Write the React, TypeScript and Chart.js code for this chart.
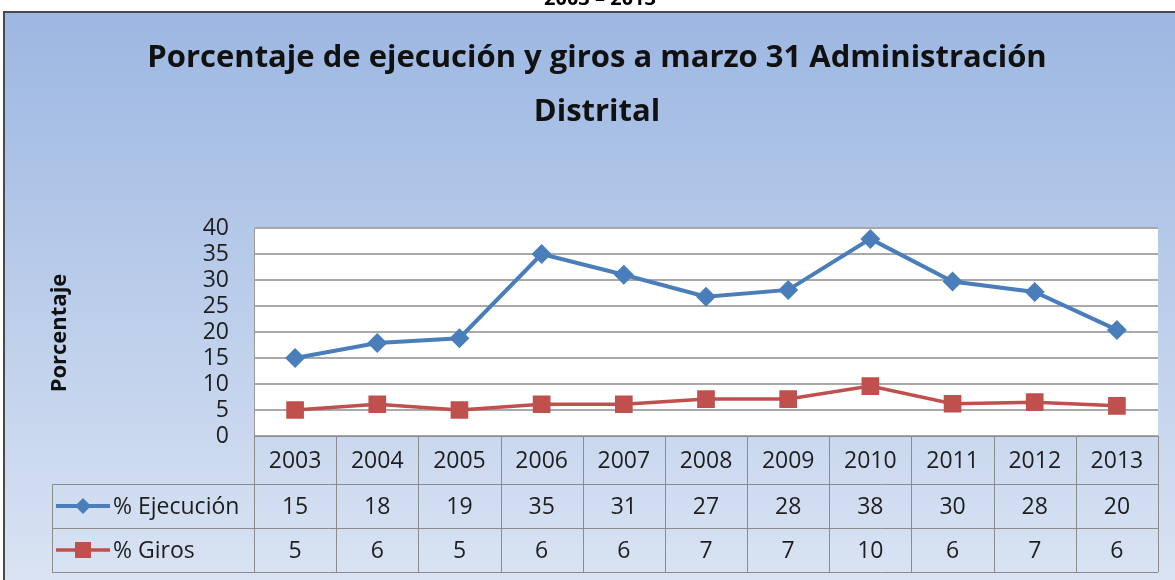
import React, { useEffect, useRef } from 'react';
import { Chart, registerables } from 'chart.js';

Chart.register(...registerables);

const years = ['2003', '2004', '2005', '2006', '2007', '2008', '2009', '2010', '2011', '2012', '2013'];
const ejecucion = [15, 17.9, 18.8, 35, 31, 26.8, 28.1, 37.9, 29.7, 27.7, 20.4];
const giros = [5, 6.1, 5, 6.1, 6.1, 7.1, 7.1, 9.6, 6.2, 6.5, 5.8];
const ejecucionLabels = ['15', '18', '19', '35', '31', '27', '28', '38', '30', '28', '20'];
const girosLabels = ['5', '6', '5', '6', '6', '7', '7', '10', '6', '7', '6'];
const seriesNames = ['% Ejecución', '% Giros'];
const titleLines = ['Porcentaje de ejecución y giros a marzo 31 Administración', 'Distrital'];
const yTitle = 'Porcentaje';
const headerText = '2003 – 2013';
const yMin = 0;
const yMax = 40;
const yStep = 5;

const FONT = '"Open Sans", sans-serif';
const BLUE = '#4a7ebb';
const RED = '#c0504d';
const GRID = '#a9a9a9';
const TEXT = '#1e1e1e';

export default function App() {
  const ref = useRef<HTMLCanvasElement>(null);

  useEffect(() => {
    document.body.style.margin = '0';
    const canvas = ref.current;
    if (!canvas) return;

    const decor = {
      id: 'decor',
      beforeDraw(chart: any) {
        const { ctx, width, height, chartArea } = chart;
        ctx.save();
        ctx.fillStyle = '#ffffff';
        ctx.fillRect(0, 0, width, height);
        // clipped heading above the chart frame
        ctx.fillStyle = '#000';
        ctx.font = `bold 20px ${FONT}`;
        ctx.textAlign = 'center';
        ctx.textBaseline = 'alphabetic';
        ctx.fillText(headerText, 600, 5);
        // frame background
        const g = ctx.createLinearGradient(0, 12, 0, height);
        g.addColorStop(0, '#9cb7e2');
        g.addColorStop(1, '#d9e3f3');
        ctx.fillStyle = g;
        ctx.fillRect(4, 12, width - 4, height - 12);
        ctx.fillStyle = '#4a4a4a';
        ctx.fillRect(3, 11, width - 3, 2);
        ctx.fillRect(3, 11, 2, height - 11);
        // plot background
        ctx.fillStyle = '#ffffff';
        ctx.fillRect(chartArea.left, chartArea.top, chartArea.right - chartArea.left, chartArea.bottom - chartArea.top);
        // title
        ctx.fillStyle = '#111';
        ctx.font = `bold 31px ${FONT}`;
        ctx.textBaseline = 'middle';
        ctx.fillText(titleLines[0], 597, 58);
        ctx.fillText(titleLines[1], 597, 112);
        // y title
        ctx.save();
        ctx.translate(60, 333);
        ctx.rotate(-Math.PI / 2);
        ctx.font = `bold 22px ${FONT}`;
        ctx.fillText(yTitle, 0, 0);
        ctx.restore();
        ctx.restore();
      },
      afterDraw(chart: any) {
        const { ctx, chartArea, scales } = chart;
        const xs = scales.x;
        const colW = xs.getPixelForValue(1) - xs.getPixelForValue(0);
        const left = chartArea.left;
        const right = chartArea.right;
        const top = chartArea.bottom;
        const r1 = top + 48;
        const r2 = r1 + 44;
        const r3 = r2 + 44;
        const legLeft = 52;
        ctx.save();
        ctx.strokeStyle = '#8c8c8c';
        ctx.lineWidth = 1;
        ctx.beginPath();
        ctx.moveTo(left, top + 0.5);
        ctx.lineTo(right, top + 0.5);
        for (const y of [r1, r2, r3]) {
          ctx.moveTo(legLeft, y + 0.5);
          ctx.lineTo(right, y + 0.5);
        }
        for (let i = 0; i <= years.length; i++) {
          const x = Math.round(xs.getPixelForValue(i) - colW / 2) + 0.5;
          ctx.moveTo(x, top);
          ctx.lineTo(x, r3);
        }
        ctx.moveTo(legLeft + 0.5, r1);
        ctx.lineTo(legLeft + 0.5, r3);
        ctx.stroke();

        ctx.fillStyle = TEXT;
        ctx.font = `23px ${FONT}`;
        ctx.textAlign = 'center';
        ctx.textBaseline = 'middle';
        years.forEach((yr, i) => {
          const cx = xs.getPixelForValue(i);
          ctx.fillText(yr, cx, (top + r1) / 2 + 1);
          ctx.fillText(ejecucionLabels[i], cx, (r1 + r2) / 2 + 1);
          ctx.fillText(girosLabels[i], cx, (r2 + r3) / 2 + 1);
        });

        // legend keys
        const ky1 = (r1 + r2) / 2;
        const ky2 = (r2 + r3) / 2;
        ctx.strokeStyle = BLUE;
        ctx.lineWidth = 4;
        ctx.beginPath();
        ctx.moveTo(56, ky1);
        ctx.lineTo(110, ky1);
        ctx.stroke();
        ctx.fillStyle = BLUE;
        ctx.beginPath();
        ctx.moveTo(83, ky1 - 8);
        ctx.lineTo(91, ky1);
        ctx.lineTo(83, ky1 + 8);
        ctx.lineTo(75, ky1);
        ctx.closePath();
        ctx.fill();
        ctx.strokeStyle = RED;
        ctx.lineWidth = 3.5;
        ctx.beginPath();
        ctx.moveTo(56, ky2);
        ctx.lineTo(110, ky2);
        ctx.stroke();
        ctx.fillStyle = RED;
        ctx.fillRect(75, ky2 - 8, 16, 16);
        ctx.fillStyle = TEXT;
        ctx.textAlign = 'left';
        ctx.fillText(seriesNames[0], 113, ky1 + 1);
        ctx.fillText(seriesNames[1], 113, ky2 + 1);
        ctx.restore();
      },
    };

    const chart = new Chart(canvas, {
      type: 'line',
      data: {
        labels: years,
        datasets: [
          {
            label: seriesNames[0],
            data: ejecucion,
            borderColor: BLUE,
            backgroundColor: BLUE,
            borderWidth: 4,
            pointStyle: 'rectRot',
            pointRadius: 10,
            pointBorderWidth: 0,
            pointBackgroundColor: BLUE,
            tension: 0,
          },
          {
            label: seriesNames[1],
            data: giros,
            borderColor: RED,
            backgroundColor: RED,
            borderWidth: 3.5,
            pointStyle: 'rect',
            pointRadius: 12.5,
            pointBorderWidth: 0,
            pointBackgroundColor: RED,
            tension: 0,
          },
        ],
      },
      options: {
        responsive: false,
        animation: false,
        layout: { padding: { left: 0, top: 228, right: 17, bottom: 144 } },
        plugins: {
          legend: { display: false },
          title: { display: false },
          tooltip: { enabled: false },
        },
        scales: {
          x: { display: false, offset: true },
          y: {
            min: yMin,
            max: yMax,
            ticks: {
              stepSize: yStep,
              autoSkip: false,
              padding: 25,
              color: TEXT,
              font: { family: FONT, size: 23, lineHeight: 1 },
            },
            grid: { color: GRID, lineWidth: 2, drawTicks: false },
            border: { display: true, color: '#9a9a9a', width: 1 },
            afterFit: (s: any) => {
              s.width = 254;
            },
          },
        },
      },
      plugins: [decor],
    });
    return () => chart.destroy();
  }, []);

  return (
    <div style={{ width: 1175, height: 580 }}>
      <canvas ref={ref} width={1175} height={580} />
    </div>
  );
}
